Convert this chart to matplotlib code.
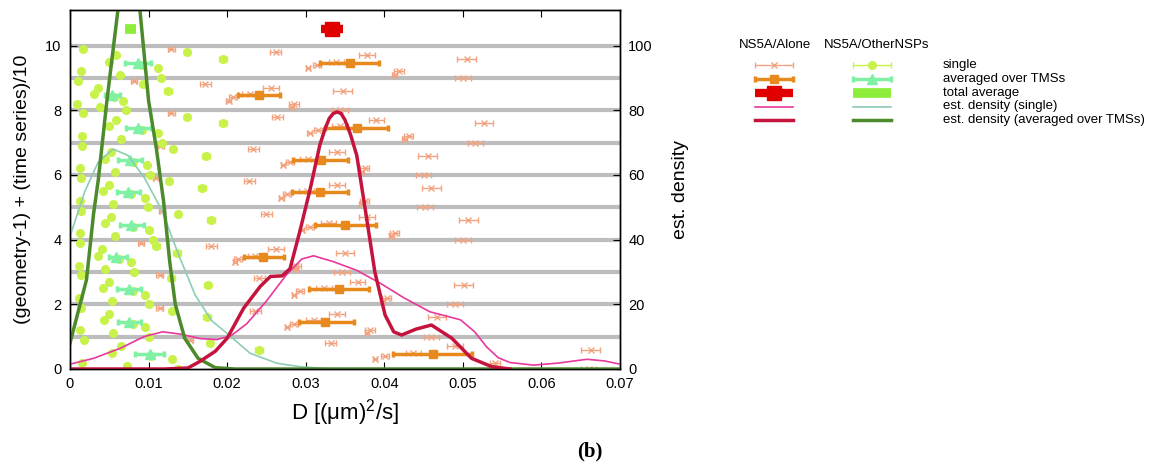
import numpy as np
import matplotlib
matplotlib.use("Agg")
import matplotlib.pyplot as plt

plt.rcParams['font.family'] = ['Liberation Sans', 'DejaVu Sans']

# diffusion coefficients D [um^2/s]; rows = geometry 1..10, columns = time series 0..9
alone_single = [
    [0.0660, 0.0538, 0.0541, 0.0388, 0.0401, 0.0437, 0.0663, 0.0490, 0.0332, 0.0153],
    [0.0460, 0.0378, 0.0382, 0.0276, 0.0285, 0.0310, 0.0467, 0.0340, 0.0236, 0.0114],
    [0.0490, 0.0398, 0.0403, 0.0285, 0.0293, 0.0323, 0.0501, 0.0366, 0.0241, 0.0114],
    [0.0346, 0.0287, 0.0288, 0.0210, 0.0214, 0.0236, 0.0350, 0.0262, 0.0180, 0.0090],
    [0.0500, 0.0409, 0.0413, 0.0295, 0.0305, 0.0329, 0.0507, 0.0378, 0.0250, 0.0117],
    [0.0452, 0.0371, 0.0375, 0.0269, 0.0276, 0.0301, 0.0460, 0.0340, 0.0228, 0.0110],
    [0.0450, 0.0371, 0.0375, 0.0271, 0.0280, 0.0303, 0.0455, 0.0340, 0.0233, 0.0115],
    [0.0516, 0.0426, 0.0431, 0.0305, 0.0316, 0.0344, 0.0527, 0.0390, 0.0264, 0.0129],
    [0.0344, 0.0282, 0.0285, 0.0202, 0.0208, 0.0229, 0.0347, 0.0256, 0.0172, 0.0081],
    [0.0500, 0.0413, 0.0419, 0.0303, 0.0314, 0.0339, 0.0505, 0.0378, 0.0262, 0.0129],
]
alone_single_err = [0.0010, 0.0003, 0.0006, 0.0003, 0.0005, 0.0010, 0.0012, 0.0010, 0.0007, 0.0004]

others_single = [
    [0.0137, 0.0072, 0.0015, 0.0130, 0.0103, 0.0054, 0.0241, 0.0065, 0.0178, 0.0018],
    [0.0101, 0.0055, 0.0013, 0.0095, 0.0080, 0.0043, 0.0174, 0.0050, 0.0130, 0.0014],
    [0.0100, 0.0054, 0.0012, 0.0095, 0.0080, 0.0042, 0.0175, 0.0049, 0.0129, 0.0014],
    [0.0081, 0.0045, 0.0011, 0.0077, 0.0062, 0.0035, 0.0136, 0.0041, 0.0110, 0.0013],
    [0.0105, 0.0057, 0.0013, 0.0101, 0.0080, 0.0044, 0.0180, 0.0052, 0.0137, 0.0014],
    [0.0099, 0.0055, 0.0013, 0.0095, 0.0078, 0.0042, 0.0168, 0.0050, 0.0126, 0.0014],
    [0.0102, 0.0057, 0.0013, 0.0098, 0.0080, 0.0044, 0.0173, 0.0052, 0.0131, 0.0015],
    [0.0117, 0.0065, 0.0015, 0.0112, 0.0092, 0.0050, 0.0195, 0.0059, 0.0149, 0.0017],
    [0.0071, 0.0038, 0.0009, 0.0068, 0.0056, 0.0030, 0.0125, 0.0035, 0.0093, 0.0010],
    [0.0116, 0.0064, 0.0014, 0.0112, 0.0092, 0.0049, 0.0195, 0.0059, 0.0149, 0.0016],
]
others_single_err = [0.0003, 0.0002, 0.0001, 0.0003, 0.0002, 0.0001, 0.0005, 0.0001, 0.0004, 0.0001]

# averages over TMSs per geometry (center, lower, upper)
alone_avg = [0.0462, 0.0325, 0.0342, 0.0246, 0.0350, 0.0318, 0.0320, 0.0365, 0.0241, 0.0356]
alone_avg_lo = [0.0411, 0.0291, 0.0304, 0.0221, 0.0312, 0.0282, 0.0284, 0.0325, 0.0214, 0.0318]
alone_avg_hi = [0.0512, 0.0361, 0.0380, 0.0272, 0.0389, 0.0354, 0.0354, 0.0405, 0.0267, 0.0393]
others_avg = [0.0102, 0.0075, 0.0075, 0.0059, 0.0078, 0.0074, 0.0076, 0.0086, 0.0053, 0.0086]
others_avg_lo = [0.0083, 0.0061, 0.0060, 0.0049, 0.0064, 0.0060, 0.0061, 0.0071, 0.0044, 0.0070]
others_avg_hi = [0.0120, 0.0090, 0.0090, 0.0073, 0.0094, 0.0089, 0.0092, 0.0103, 0.0064, 0.0103]
avg_offset = 0.46

# total averages (center, lower, upper), drawn at y = 10.5
alone_total = [0.0333, 0.0319, 0.0347]
others_total = [0.0077, 0.0070, 0.0084]
total_y = 10.5

# estimated densities
dens_alone_single_x = [0.0, 0.003, 0.0064, 0.0094, 0.0118, 0.014, 0.0166, 0.0187, 0.0205, 0.0225,
                       0.025, 0.0275, 0.0295, 0.031, 0.0335, 0.0365, 0.0395, 0.0425, 0.0458,
                       0.0497, 0.0515, 0.053, 0.0545, 0.056, 0.059, 0.062, 0.0658, 0.068, 0.070]
dens_alone_single_y = [1.5, 3.3, 6.4, 10.0, 11.5, 10.8, 9.4, 9.1, 10.3, 14.0,
                       21.0, 29.0, 34.0, 35.0, 33.2, 30.5, 26.5, 22.0, 17.7,
                       15.2, 11.5, 6.9, 3.5, 2.0, 1.2, 1.8, 3.0, 2.5, 1.5]
dens_alone_avg_x = [0.0, 0.012, 0.015, 0.0165, 0.0185, 0.020, 0.0221, 0.0242, 0.0255, 0.027,
                    0.028, 0.0293, 0.0306, 0.0318, 0.0325, 0.033, 0.0335, 0.034, 0.0345, 0.035,
                    0.0357, 0.0365, 0.0376, 0.0388, 0.0401, 0.0412, 0.0422, 0.044, 0.046,
                    0.0486, 0.0511, 0.0537, 0.056]
dens_alone_avg_y = [0.0, 0.0, 0.3, 2.3, 5.5, 9.5, 18.8, 25.5, 28.6, 28.8,
                    31.0, 43.0, 56.0, 69.3, 74.5, 77.5, 79.0, 79.5, 79.0, 77.0,
                    72.5, 66.0, 49.0, 30.0, 16.7, 11.5, 10.5, 12.3, 13.6,
                    9.5, 3.3, 0.7, 0.0]
dens_others_single_x = [0.0, 0.0019, 0.0036, 0.0055, 0.0074, 0.0095, 0.0117, 0.0138, 0.0159,
                        0.018, 0.020, 0.0229, 0.0263, 0.0293, 0.033, 0.070]
dens_others_single_y = [41.0, 55.0, 64.0, 68.0, 66.0, 59.0, 49.0, 35.5, 23.0,
                        15.0, 11.0, 4.9, 1.8, 0.7, 0.1, 0.0]
dens_others_avg_x = [0.0, 0.0021, 0.003, 0.0036, 0.0047, 0.0061, 0.0068, 0.0076, 0.0083, 0.0089,
                     0.010, 0.011, 0.0119, 0.0127, 0.0134, 0.0146, 0.0163, 0.0185, 0.021, 0.070]
dens_others_avg_y = [8.0, 27.6, 48.0, 58.5, 83.0, 111.0, 125.0, 130.0, 125.0, 111.0,
                     83.0, 68.0, 52.0, 33.0, 20.0, 9.5, 3.3, 0.4, 0.0, 0.0]

grid_levels = [1, 2, 3, 4, 5, 6, 7, 8, 9, 10]
x_ticks = [0, 0.01, 0.02, 0.03, 0.04, 0.05, 0.06, 0.07]
x_tick_labels = ['0', '0.01', '0.02', '0.03', '0.04', '0.05', '0.06', '0.07']

c_alone_single = '#f2a37f'
c_alone_avg = '#e8891e'
c_alone_total = '#e00000'
c_others_single = '#c8f24a'
c_others_avg = '#80f0a4'
c_others_total = '#8cee3a'
c_dens_alone_single = '#e8389c'
c_dens_alone_avg = '#c4143e'
c_dens_others_single = '#8ccdb4'
c_dens_others_avg = '#4d8a2b'

W, H = 1153, 468
fig = plt.figure(figsize=(W / 100, H / 100), dpi=100)
ax = fig.add_axes([70 / W, 1 - 369 / H, 550 / W, 359 / H])

for lev in grid_levels:
    ax.axhline(lev, color='#bdbdbd', lw=3, zorder=1)

n_geo = len(alone_single)
ks = np.arange(10) / 10.0
for g in range(n_geo):
    y = g + ks
    ax.errorbar(alone_single[g], y, xerr=alone_single_err, fmt='x', color=c_alone_single,
                ms=5, mew=1, elinewidth=1, capsize=2.5, zorder=3)
    ax.errorbar(others_single[g], y, xerr=others_single_err, fmt='o', color=c_others_single,
                ms=5.5, elinewidth=1, capsize=2, zorder=3)

avg_y = np.arange(n_geo) + avg_offset
a_c = np.array(alone_avg)
ax.errorbar(a_c, avg_y, xerr=[a_c - np.array(alone_avg_lo), np.array(alone_avg_hi) - a_c],
            fmt='s', color=c_alone_avg, ms=5.5, elinewidth=2.5, capsize=2.5, capthick=2.5, zorder=4)
o_c = np.array(others_avg)
ax.errorbar(o_c, avg_y, xerr=[o_c - np.array(others_avg_lo), np.array(others_avg_hi) - o_c],
            fmt='^', color=c_others_avg, ms=7, elinewidth=2.5, capsize=2.5, capthick=2.5, zorder=4)

ax.errorbar([alone_total[0]], [total_y],
            xerr=[[alone_total[0] - alone_total[1]], [alone_total[2] - alone_total[0]]],
            fmt='s', color=c_alone_total, ms=10, elinewidth=6, capsize=0, zorder=4)
ax.errorbar([others_total[0]], [total_y],
            xerr=[[others_total[0] - others_total[1]], [others_total[2] - others_total[0]]],
            fmt='none', ecolor=c_others_total, elinewidth=7, capsize=0, zorder=4)

ax.set_xlim(0, 0.07)
ax.set_ylim(0, 11.1)
ax.set_xticks(x_ticks)
ax.set_xticklabels(x_tick_labels)
ax.set_yticks([0, 2, 4, 6, 8, 10])
ax.tick_params(direction='in', top=True, right=False, length=5, labelsize=10.5, pad=6)
ax.set_xlabel(r'D [($\mathregular{\mu}$m)$\mathregular{^2}$/s]', fontsize=16, labelpad=4)
ax.set_ylabel('(geometry-1) + (time series)/10', fontsize=14, labelpad=10)

# density curves on the secondary axis
ax2 = ax.twinx()
ax2.plot(dens_others_single_x, dens_others_single_y, color=c_dens_others_single, lw=1.2)
ax2.plot(dens_alone_single_x, dens_alone_single_y, color=c_dens_alone_single, lw=1.2)
ax2.plot(dens_others_avg_x, dens_others_avg_y, color=c_dens_others_avg, lw=2.5)
ax2.plot(dens_alone_avg_x, dens_alone_avg_y, color=c_dens_alone_avg, lw=2.5)
ax2.set_ylim(0, 111)
ax2.set_yticks([0, 20, 40, 60, 80, 100])
ax2.tick_params(direction='in', length=5, labelsize=10.5, pad=6)
ax2.set_ylabel('est. density', fontsize=14, labelpad=14)
for sp in list(ax.spines.values()) + list(ax2.spines.values()):
    sp.set_linewidth(1)

# key in pixel coordinates
lax = fig.add_axes([0, 0, 1, 1])
lax.set_xlim(0, W)
lax.set_ylim(H, 0)
lax.axis('off')
lax.text(775, 45, 'NS5A/Alone', ha='center', va='center', fontsize=9.5)
lax.text(877, 45, 'NS5A/OtherNSPs', ha='center', va='center', fontsize=9.5)
rows = [65, 79, 93, 106.5, 120]
labels = ['single', 'averaged over TMSs', 'total average', 'est. density (single)',
          'est. density (averaged over TMSs)']
xa, xo, half = 774, 872, 19
lax.errorbar([xa], [rows[0]], xerr=[[half]], fmt='x', color=c_alone_single, ms=5, mew=1,
             elinewidth=1, capsize=2.5)
lax.errorbar([xo], [rows[0]], xerr=[[half]], fmt='o', color=c_others_single, ms=5.5,
             elinewidth=1, capsize=2.5)
lax.errorbar([xa], [rows[1]], xerr=[[half]], fmt='s', color=c_alone_avg, ms=5.5,
             elinewidth=2.5, capsize=2.5, capthick=2.5)
lax.errorbar([xo], [rows[1]], xerr=[[half]], fmt='^', color=c_others_avg, ms=7,
             elinewidth=2.5, capsize=2.5, capthick=2.5)
lax.errorbar([xa], [rows[2]], xerr=[[half]], fmt='s', color=c_alone_total, ms=10,
             elinewidth=6, capsize=0)
lax.errorbar([xo], [rows[2]], xerr=[[half]], fmt='none', ecolor=c_others_total,
             elinewidth=7, capsize=0)
lax.plot([xa - half, xa + half], [rows[3]] * 2, color=c_dens_alone_single, lw=1.2)
lax.plot([xo - half, xo + half], [rows[3]] * 2, color=c_dens_others_single, lw=1.2)
lax.plot([xa - half, xa + half], [rows[4]] * 2, color=c_dens_alone_avg, lw=2.5)
lax.plot([xo - half, xo + half], [rows[4]] * 2, color=c_dens_others_avg, lw=2.5)
for r, lab in zip(rows, labels):
    lax.text(943, r, lab, ha='left', va='center', fontsize=9.5)

lax.text(590, 451, '(b)', ha='center', va='center', fontsize=15, fontweight='bold',
         family='Liberation Serif')

fig.savefig('out.png', dpi=100)
